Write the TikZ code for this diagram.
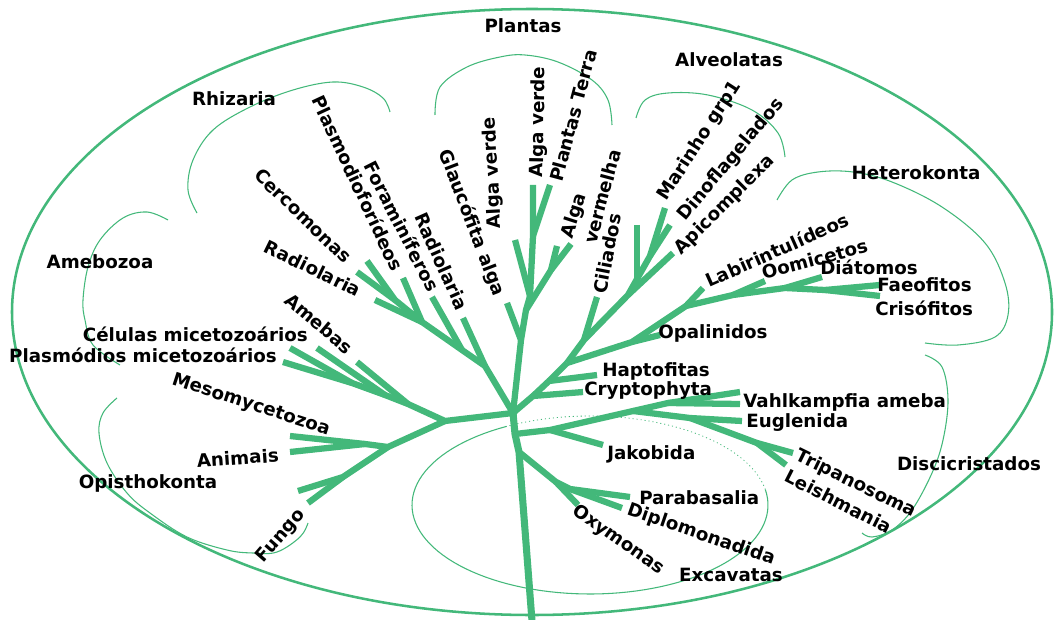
\documentclass[tikz,border=0pt]{standalone}
\usepackage{fontspec}
\setmainfont{DejaVu Sans}
\definecolor{leaf}{RGB}{67,184,122}
\begin{document}
\begin{tikzpicture}[x=0.75pt,y=-0.75pt,
  branch/.style={draw=leaf, line width=4.7pt, line join=round, line cap=butt},
  stem/.style={branch, line width=5.3pt},
  clade/.style={draw=leaf, line width=0.8pt},
  rim/.style={draw=leaf, line width=1.9pt},
  lbl/.style={font=\fontsize{13.7}{16}\selectfont\bfseries, inner sep=0pt, text=black,
              text height=10pt, text depth=2.6pt},
]
\useasboundingbox (0,0) rectangle (1055,620);

% outer boundary of the eukaryotes
\draw[rim] (532,312) ellipse [x radius=390pt, y radius=227.25pt];

% thin brackets around the supergroups
\draw[clade] plot[smooth, tension=0.6] coordinates {(435,115) (440,87) (467,67) (500,57) (525,55) (558,62) (592,80) (608,100) (612,125)};
\draw[clade] plot[smooth, tension=0.6] coordinates {(636,118) (645,100) (668,93) (708,95) (752,110) (778,133) (785,157)};
\draw[clade] plot[smooth, tension=0.6] coordinates {(777,200) (792,180) (818,172) (853,172) (892,182) (942,207) (985,243) (1005,283) (1008,315) (995,337) (958,345) (925,343)};
\draw[clade] plot[smooth, tension=0.6] coordinates {(925,355) (942,367) (948,400) (943,440) (932,473) (912,510) (892,530) (872,537) (862,533)};
\draw[clade] plot[smooth, tension=0.6] coordinates {(197,213) (188,190) (193,160) (213,130) (250,107) (293,90) (333,82) (363,87) (383,98) (390,112)};
\draw[clade] plot[smooth, tension=0.6] coordinates {(168,220) (147,212) (123,218) (100,240) (88,267) (83,300) (85,320) (93,345) (120,365)};
\draw[clade] plot[smooth, tension=0.6] coordinates {(117,398) (103,413) (99,433) (107,463) (127,493) (150,513) (187,537) (227,550) (253,553) (277,552) (300,537) (308,523)};
\draw[clade] plot[domain=118:370, samples=90] ({590+178*cos(\x)}, {505-89*sin(\x)});
\draw[draw=leaf, line width=0.6pt, dash pattern=on 0.8pt off 2.2pt]
  plot[domain=10:120, samples=60] ({590+178*cos(\x)}, {505-89*sin(\x)});

% junctions and tips of the tree
\coordinate (hub) at (513,413);
\coordinate (root) at (532,621);
\coordinate (nL) at (445,421);
\coordinate (am1) at (408,404);
\coordinate (am2) at (385,395);
\coordinate (am3) at (352,383);
\coordinate (tA1) at (283,362);
\coordinate (tA2) at (290,348);
\coordinate (tA3) at (317,348);
\coordinate (tA4) at (357,362);
\coordinate (op1) at (388,447);
\coordinate (op2) at (365,444);
\coordinate (op3) at (343,477);
\coordinate (tMes) at (290,436);
\coordinate (tAni) at (290,452);
\coordinate (tFu1) at (298,491);
\coordinate (tFu2) at (308,503);
\coordinate (r1) at (485,366);
\coordinate (r2) at (462,350);
\coordinate (r3) at (422,322);
\coordinate (r4) at (395,300);
\coordinate (tRad2) at (463,318);
\coordinate (tFor) at (432,297);
\coordinate (tPla) at (403,278);
\coordinate (tRad1) at (375,300);
\coordinate (tCe1) at (367,261);
\coordinate (tCe2) at (357,272);
\coordinate (p1) at (521,340);
\coordinate (p2) at (526,310);
\coordinate (p3) at (551,270);
\coordinate (p4) at (530,296);
\coordinate (p5) at (533,236);
\coordinate (tGla) at (507,303);
\coordinate (tRe1) at (557,246);
\coordinate (tRe2) at (571,244);
\coordinate (tAv1) at (515,240);
\coordinate (tAv2) at (533,185);
\coordinate (tPT) at (550,185);
\coordinate (c1) at (533,396);
\coordinate (c2) at (549,381);
\coordinate (c3) at (567,363);
\coordinate (tCry) at (583,392);
\coordinate (tHap) at (597,375);
\coordinate (a4) at (584,340);
\coordinate (a3) at (628,295);
\coordinate (a2) at (637,279);
\coordinate (a1) at (650,256);
\coordinate (tCil) at (597,297);
\coordinate (tApi) at (673,253);
\coordinate (tAlx) at (637,225);
\coordinate (tMar) at (665,208);
\coordinate (tDin) at (670,225);
\coordinate (h5) at (632,342);
\coordinate (h4) at (686,306);
\coordinate (h3) at (733,295);
\coordinate (h2) at (785,288);
\coordinate (h1) at (825,290);
\coordinate (tOpa) at (660,335);
\coordinate (tLab) at (703,288);
\coordinate (tOom) at (765,281);
\coordinate (tDia) at (822,277);
\coordinate (tFae) at (880,285);
\coordinate (tCri) at (880,296);
\coordinate (e0) at (515,434);
\coordinate (e1) at (550,430);
\coordinate (e2) at (633,411);
\coordinate (e3) at (668,403);
\coordinate (e4) at (690,418);
\coordinate (e5) at (757,443);
\coordinate (tJak) at (603,445);
\coordinate (tVa1) at (740,392);
\coordinate (tVa2) at (740,404);
\coordinate (tEug) at (742,421);
\coordinate (tTri) at (793,453);
\coordinate (tLei) at (786,465);
\coordinate (e6) at (519,452);
\coordinate (x1) at (556,482);
\coordinate (x2) at (570,489);
\coordinate (tOxy) at (578,505);
\coordinate (tPar) at (630,497);
\coordinate (tDip) at (622,508);

% trunk
\draw[stem] (hub) -- (e0) -- (e6) -- (root);
% Amebozoa
\draw[branch] (tA1) -- (am3) -- (am2) -- (am1) -- (nL) -- (hub);
\draw[branch] (tA2) -- (am3);
\draw[branch] (tA3) -- (am2);
\draw[branch] (tA4) -- (am1);
% Opisthokonta
\draw[branch] (tMes) -- (op2) -- (op1) -- (nL);
\draw[branch] (tAni) -- (op2);
\draw[branch] (tFu1) -- (op3) -- (op1);
\draw[branch] (tFu2) -- (op3);
% Rhizaria
\draw[branch] (tCe1) -- (r4) -- (r3) -- (r2) -- (r1) -- (hub);
\draw[branch] (tCe2) -- (r4);
\draw[branch] (tRad1) -- (r3);
\draw[branch] (tPla) -- (r3);
\draw[branch] (tFor) -- (r2);
\draw[branch] (tRad2) -- (r1);
% Plantas
\draw[branch] (tAv2) -- (p5) -- (p4) -- (p2) -- (p1) -- (hub);
\draw[branch] (tPT) -- (p5);
\draw[branch] (tAv1) -- (p4);
\draw[branch] (tRe1) -- (p3) -- (p2);
\draw[branch] (tRe2) -- (p3);
\draw[branch] (tGla) -- (p1);
% Hacrobia and SAR stem
\draw[branch] (tCry) -- (c1) -- (hub);
\draw[branch] (tHap) -- (c2) -- (c1);
\draw[branch] (c2) -- (c3);
% Alveolatas
\draw[branch] (tMar) -- (a1) -- (a2) -- (a3) -- (a4) -- (c3);
\draw[branch] (tDin) -- (a1);
\draw[branch] (tAlx) -- (a2);
\draw[branch] (tApi) -- (a3);
\draw[branch] (tCil) -- (a4);
% Heterokonta
\draw[branch] (tFae) -- (h1) -- (h2) -- (h3) -- (h4) -- (h5) -- (c3);
\draw[branch] (tCri) -- (h1);
\draw[branch] (tDia) -- (h2);
\draw[branch] (tOom) -- (h3);
\draw[branch] (tLab) -- (h4);
\draw[branch] (tOpa) -- (h5);
% Excavatas
\draw[branch] (tVa1) -- (e3) -- (e2) -- (e1) -- (e0);
\draw[branch] (tVa2) -- (e3);
\draw[branch] (tJak) -- (e1);
\draw[branch] (tEug) -- (e4) -- (e2);
\draw[branch] (tTri) -- (e5) -- (e4);
\draw[branch] (tLei) -- (e5);
\draw[branch] (tPar) -- (x2) -- (x1) -- (e6);
\draw[branch] (tDip) -- (x2);
\draw[branch] (tOxy) -- (x1);
\fill[leaf] (hub) circle[radius=3.2pt];

% supergroup names
\node[lbl] (gPla) at (523,28) {Plantas};
\node[lbl] (gRhi) at (234,101) {Rhizaria};
\node[lbl] (gAlv) at (729,62) {Alveolatas};
\node[lbl] (gHet) at (916,175) {Heterokonta};
\node[lbl] (gAme) at (100,264) {Amebozoa};
\node[lbl] (gOpi) at (148,484) {Opisthokonta};
\node[lbl] (gDis) at (969,466) {Discicristados};
\node[lbl] (gExc) at (731,577) {Excavatas};

% tip names
\node[lbl, anchor=east] (lCel) at (308,337) {Células micetozoários};
\node[lbl, anchor=east] (lPls) at (277,358) {Plasmódios micetozoários};
\node[lbl, anchor=east, rotate=4] (lAni) at (279,457) {Animais};
\node[lbl, anchor=west] (lOpa) at (658,334) {Opalinidos};
\node[lbl, anchor=west] (lHap) at (602,372) {Haptofitas};
\node[lbl, anchor=west] (lCry) at (584,391) {Cryptophyta};
\node[lbl, anchor=west] (lVah) at (743,403) {Vahlkampfia ameba};
\node[lbl, anchor=west] (lEug) at (746,423) {Euglenida};
\node[lbl, anchor=west] (lJak) at (607,455) {Jakobida};
\node[lbl, anchor=west] (lPar) at (639,500) {Parabasalia};
\node[lbl, anchor=west] (lFae) at (877,287) {Faeofitos};
\node[lbl, anchor=west] (lCri) at (875,311) {Crisófitos};
\node[lbl, anchor=west] (lDia) at (820,270) {Diátomos};
\node[lbl, rotate=15] (lOom) at (815,261) {Oomicetos};
\node[lbl, rotate=24] (lLab) at (778,252) {Labirintulídeos};
\node[lbl, rotate=45] (lApi) at (725,205) {Apicomplexa};
\node[lbl, rotate=50] (lDin) at (731,160) {Dinoflagelados};
\node[lbl, rotate=57] (lMar) at (700,141) {Marinho grp1};
\node[lbl, rotate=79] (lCil) at (609,254) {Ciliados};
\node[lbl, rotate=72] (lAlg) at (575,216) {Alga};
\node[lbl, rotate=75] (lVer) at (604,197) {vermelha};
\node[lbl, rotate=75] (lPT) at (575,116) {Plantas Terra};
\node[lbl, rotate=89] (lAv2) at (539,122) {Alga verde};
\node[lbl, rotate=93] (lAv1) at (493,173) {Alga verde};
\node[lbl, rotate=-69] (lGla) at (471,223) {Glaucófita alga};
\node[lbl, rotate=-66] (lRa2) at (440,262) {Radiolaria};
\node[lbl, rotate=-63] (lFor) at (400,227) {Foraminíferos};
\node[lbl, rotate=-65] (lPlm) at (356,184) {Plasmodioforídeos};
\node[lbl, rotate=-44] (lCer) at (302,217) {Cercomonas};
\node[lbl, rotate=-26] (lRa1) at (312,270) {Radiolaria};
\node[lbl, rotate=-40] (lAmb) at (318,325) {Amebas};
\node[lbl, rotate=-18] (lMes) at (251,405) {Mesomycetozoa};
\node[lbl, rotate=49] (lFun) at (281,536) {Fungo};
\node[lbl, rotate=-26] (lTri) at (856,484) {Tripanosoma};
\node[lbl, rotate=-27] (lLei) at (838,503) {Leishmania};
\node[lbl, rotate=-19] (lDip) at (701,535) {Diplomonadida};
\node[lbl, rotate=-35] (lOxy) at (618,540) {Oxymonas};
\end{tikzpicture}
\end{document}
